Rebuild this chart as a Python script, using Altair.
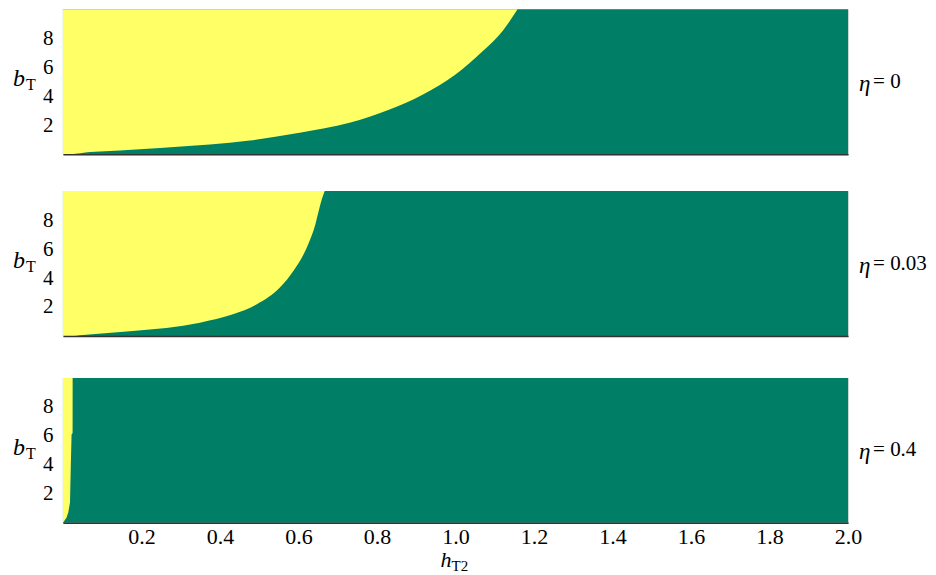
import altair as alt
import pandas as pd

# ---- data ----
H_DOMAIN = [0.0, 2.0]
B_DOMAIN = [0.0, 10.0]

x_ticks = [0.2, 0.4, 0.6, 0.8, 1.0, 1.2, 1.4, 1.6, 1.8, 2.0]
y_ticks = [2, 4, 6, 8]

eta_labels = ["0", "0.03", "0.4"]

# boundary of the yellow region (h_T2, b_T) for each eta; yellow lies above/left of it
h_eta0 = [0.0, 0.02, 0.069, 0.145, 0.247, 0.374, 0.476, 0.603, 0.730, 0.832, 0.916, 1.0, 1.069, 1.12, 1.158]
b_eta0 = [0.0, 0.0, 0.14, 0.25, 0.43, 0.67, 0.94, 1.47, 2.16, 3.08, 4.1, 5.5, 7.1, 8.5, 10.0]

h_eta003 = [0.0, 0.02, 0.051, 0.178, 0.349, 0.433, 0.494, 0.552, 0.590, 0.621, 0.643, 0.658, 0.667]
b_eta003 = [0.0, 0.0, 0.07, 0.34, 0.92, 1.49, 2.19, 3.33, 4.6, 6.09, 7.7, 9.3, 10.0]

h_eta04 = [0.0, 0.009, 0.0135, 0.018, 0.020, 0.022, 0.0246, 0.0247]
b_eta04 = [0.0, 0.34, 0.7, 1.4, 3.9, 6.1, 6.2, 10.0]

YELLOW = "#FFFF66"
GREEN = "#007F66"
FONT = "Liberation Serif, Times New Roman, Times, serif"

W, HGT = 786, 145

xscale = alt.Scale(domain=H_DOMAIN, nice=False, zero=False)
yscale = alt.Scale(domain=B_DOMAIN, nice=False, zero=False)


def panel(hvals, bvals, eta, show_x, interp):
    if show_x:
        xaxis = alt.Axis(values=x_ticks, format=".1f", labelFontSize=22, labelFont=FONT,
                         labelPadding=4, labelFlush=False, ticks=False, grid=False,
                         title=None, domainColor="#333", domainWidth=1.5, zindex=1,
                         labelColor="black")
    else:
        xaxis = alt.Axis(labels=False, ticks=False, grid=False, title=None,
                         domainColor="#333", domainWidth=1.5, zindex=1)
    yaxis = alt.Axis(values=y_ticks, format="d", labelFontSize=21, labelFont=FONT,
                     labelPadding=10, ticks=False, grid=False, domain=False, title=None,
                     labelColor="black")

    bg_df = pd.DataFrame({"x0": [H_DOMAIN[0]], "x1": [H_DOMAIN[1]],
                          "y0": [B_DOMAIN[0]], "y1": [B_DOMAIN[1]]})
    bg = alt.Chart(bg_df).mark_rect(color=GREEN).encode(
        x=alt.X("x0:Q", scale=xscale, axis=xaxis),
        x2="x1:Q",
        y=alt.Y("y0:Q", scale=yscale, axis=yaxis),
        y2="y1:Q",
    )

    df = pd.DataFrame({"h": hvals, "b": bvals, "top": [B_DOMAIN[1]] * len(hvals)})
    area = alt.Chart(df).mark_area(color=YELLOW, interpolate=interp, opacity=1).encode(
        x=alt.X("h:Q", scale=xscale),
        y=alt.Y("b:Q", scale=yscale),
        y2="top:Q",
    )

    one = pd.DataFrame({"k": [0]})
    b_txt = alt.Chart(one).mark_text(text="b", font=FONT, fontStyle="italic", fontSize=24,
                                     align="left", baseline="alphabetic", color="black").encode(
        x=alt.value(-50), y=alt.value(77))
    t_txt = alt.Chart(one).mark_text(text="T", font=FONT, fontSize=16,
                                     align="left", baseline="alphabetic", color="black").encode(
        x=alt.value(-37), y=alt.value(81))
    eta_txt = alt.Chart(one).mark_text(text="η", font=FONT, fontStyle="italic", fontSize=23,
                                       align="left", baseline="middle", color="black").encode(
        x=alt.value(W + 11), y=alt.value(HGT / 2 + 2))
    eq_txt = alt.Chart(one).mark_text(text="= " + eta, font=FONT, fontSize=21,
                                      align="left", baseline="middle", color="black").encode(
        x=alt.value(W + 25), y=alt.value(HGT / 2))

    layers = [bg, area, b_txt, t_txt, eta_txt, eq_txt]
    if show_x:
        h_txt = alt.Chart(one).mark_text(text="h", font=FONT, fontStyle="italic", fontSize=22,
                                         align="left", baseline="alphabetic", color="black").encode(
            x=alt.value(378), y=alt.value(189))
        t2_txt = alt.Chart(one).mark_text(text="T2", font=FONT, fontSize=15,
                                          align="left", baseline="alphabetic", color="black").encode(
            x=alt.value(389), y=alt.value(193))
        layers += [h_txt, t2_txt]
    return alt.layer(*layers).properties(width=W, height=HGT)


p1 = panel(h_eta0, b_eta0, eta_labels[0], False, "monotone")
p2 = panel(h_eta003, b_eta003, eta_labels[1], False, "monotone")
p3 = panel(h_eta04, b_eta04, eta_labels[2], True, "linear")

top = alt.vconcat(p1, p2, spacing=35)
chart = alt.vconcat(top, p3, spacing=40).properties(
    padding={"left": 4, "top": 0, "right": 0, "bottom": 0}
).configure_view(stroke="#999", strokeWidth=1).configure(background="white")

chart.save("out.html", embed_options={"renderer": "svg", "actions": False})
